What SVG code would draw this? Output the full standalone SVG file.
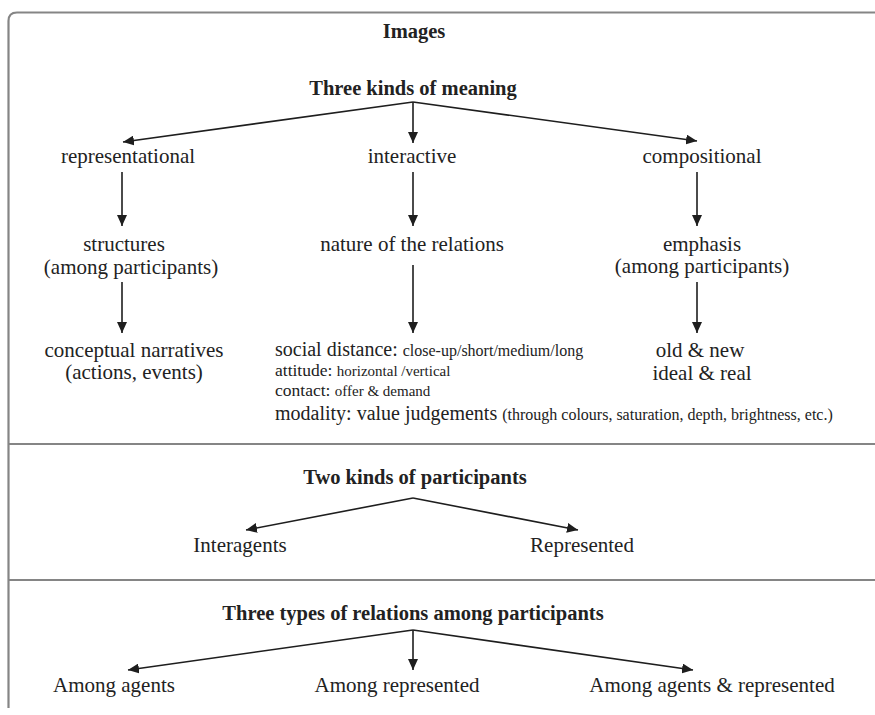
<svg xmlns="http://www.w3.org/2000/svg" width="875" height="715" viewBox="0 0 875 715">
<defs>
<marker id="ah" markerUnits="userSpaceOnUse" markerWidth="12" markerHeight="10" refX="11" refY="5" orient="auto">
<path d="M0,0 L11,5 L0,10 z" fill="#1e1e1e"/>
</marker>
<style>
text{font-family:'Liberation Serif','Times New Roman',serif;fill:#222;}
.t{font-size:21px;text-anchor:middle;}
.b{font-size:20.5px;font-weight:bold;text-anchor:middle;}
.d{font-size:20px;}
.d2{font-size:17.5px;}
.s{font-size:16px;}
.s2{font-size:15px;}
.frame{fill:none;stroke:#858585;stroke-width:2.2;}
.c line{stroke:#1e1e1e;stroke-width:1.6;marker-end:url(#ah);}
</style>
</defs>
<rect width="875" height="715" fill="#fff"/>
<g id="frame">
<path class="frame" d="M8.5,708 L8.5,21 Q8.5,12.5 17,12.5 L875,12.5"/>
<line class="frame" x1="8.5" y1="444" x2="875" y2="444"/>
<line class="frame" x1="8.5" y1="580" x2="875" y2="580"/>
</g>
<g font-family="Liberation Serif, Times New Roman, serif">
<g id="images"><text class="b" x="414" y="38">Images</text></g>
<g id="three-kinds-meaning"><text class="b" x="413" y="95">Three kinds of meaning</text></g>
<g id="representational"><text class="t" x="128" y="163">representational</text></g>
<g id="interactive"><text class="t" x="412" y="163">interactive</text></g>
<g id="compositional"><text class="t" x="702" y="163">compositional</text></g>
<g id="structures"><text class="t" x="124" y="251">structures</text><text class="t" x="131" y="274">(among participants)</text></g>
<g id="nature"><text class="t" x="412" y="251">nature of the relations</text></g>
<g id="emphasis"><text class="t" x="702" y="251">emphasis</text><text class="t" x="702" y="273">(among participants)</text></g>
<g id="conceptual"><text class="t" x="134" y="357">conceptual narratives</text><text class="t" x="134" y="379">(actions, events)</text></g>
<g id="interactive-details">
<text class="d" x="275" y="356">social distance: <tspan class="s">close-up/short/medium/long</tspan></text>
<text class="d2" x="275" y="376">attitude: <tspan class="s2">horizontal /vertical</tspan></text>
<text class="d2" x="275" y="396">contact: <tspan class="s2">offer &amp; demand</tspan></text>
<text class="d" x="275" y="420">modality: value judgements <tspan class="s">(through colours, saturation, depth, brightness, etc.)</tspan></text>
</g>
<g id="old-new"><text class="t" x="700" y="357">old &amp; new</text><text class="t" x="702" y="380">ideal &amp; real</text></g>
<g id="two-kinds"><text class="b" x="415" y="484">Two kinds of participants</text></g>
<g id="interagents"><text class="t" x="240" y="552">Interagents</text></g>
<g id="represented"><text class="t" x="582" y="552">Represented</text></g>
<g id="three-types"><text class="b" x="413" y="620">Three types of relations among participants</text></g>
<g id="among-agents"><text class="t" x="114" y="692">Among agents</text></g>
<g id="among-represented"><text class="t" x="397" y="692">Among represented</text></g>
<g id="among-both"><text class="t" x="712" y="692">Among agents &amp; represented</text></g>
</g>
<g id="connectors" class="c">
<line x1="413" y1="102" x2="123" y2="142"/>
<line x1="413" y1="102" x2="413" y2="143"/>
<line x1="413" y1="102" x2="697" y2="141"/>
<line x1="122" y1="172" x2="122" y2="226"/>
<line x1="413" y1="172" x2="413" y2="226"/>
<line x1="697" y1="172" x2="697" y2="226"/>
<line x1="122" y1="282" x2="122" y2="333"/>
<line x1="413" y1="265" x2="413" y2="333"/>
<line x1="697" y1="282" x2="697" y2="333"/>
<line x1="413" y1="498" x2="246" y2="530"/>
<line x1="413" y1="498" x2="578" y2="530"/>
<line x1="413" y1="630" x2="128" y2="670"/>
<line x1="413" y1="630" x2="413" y2="670"/>
<line x1="413" y1="630" x2="693" y2="670"/>
</g>
</svg>
